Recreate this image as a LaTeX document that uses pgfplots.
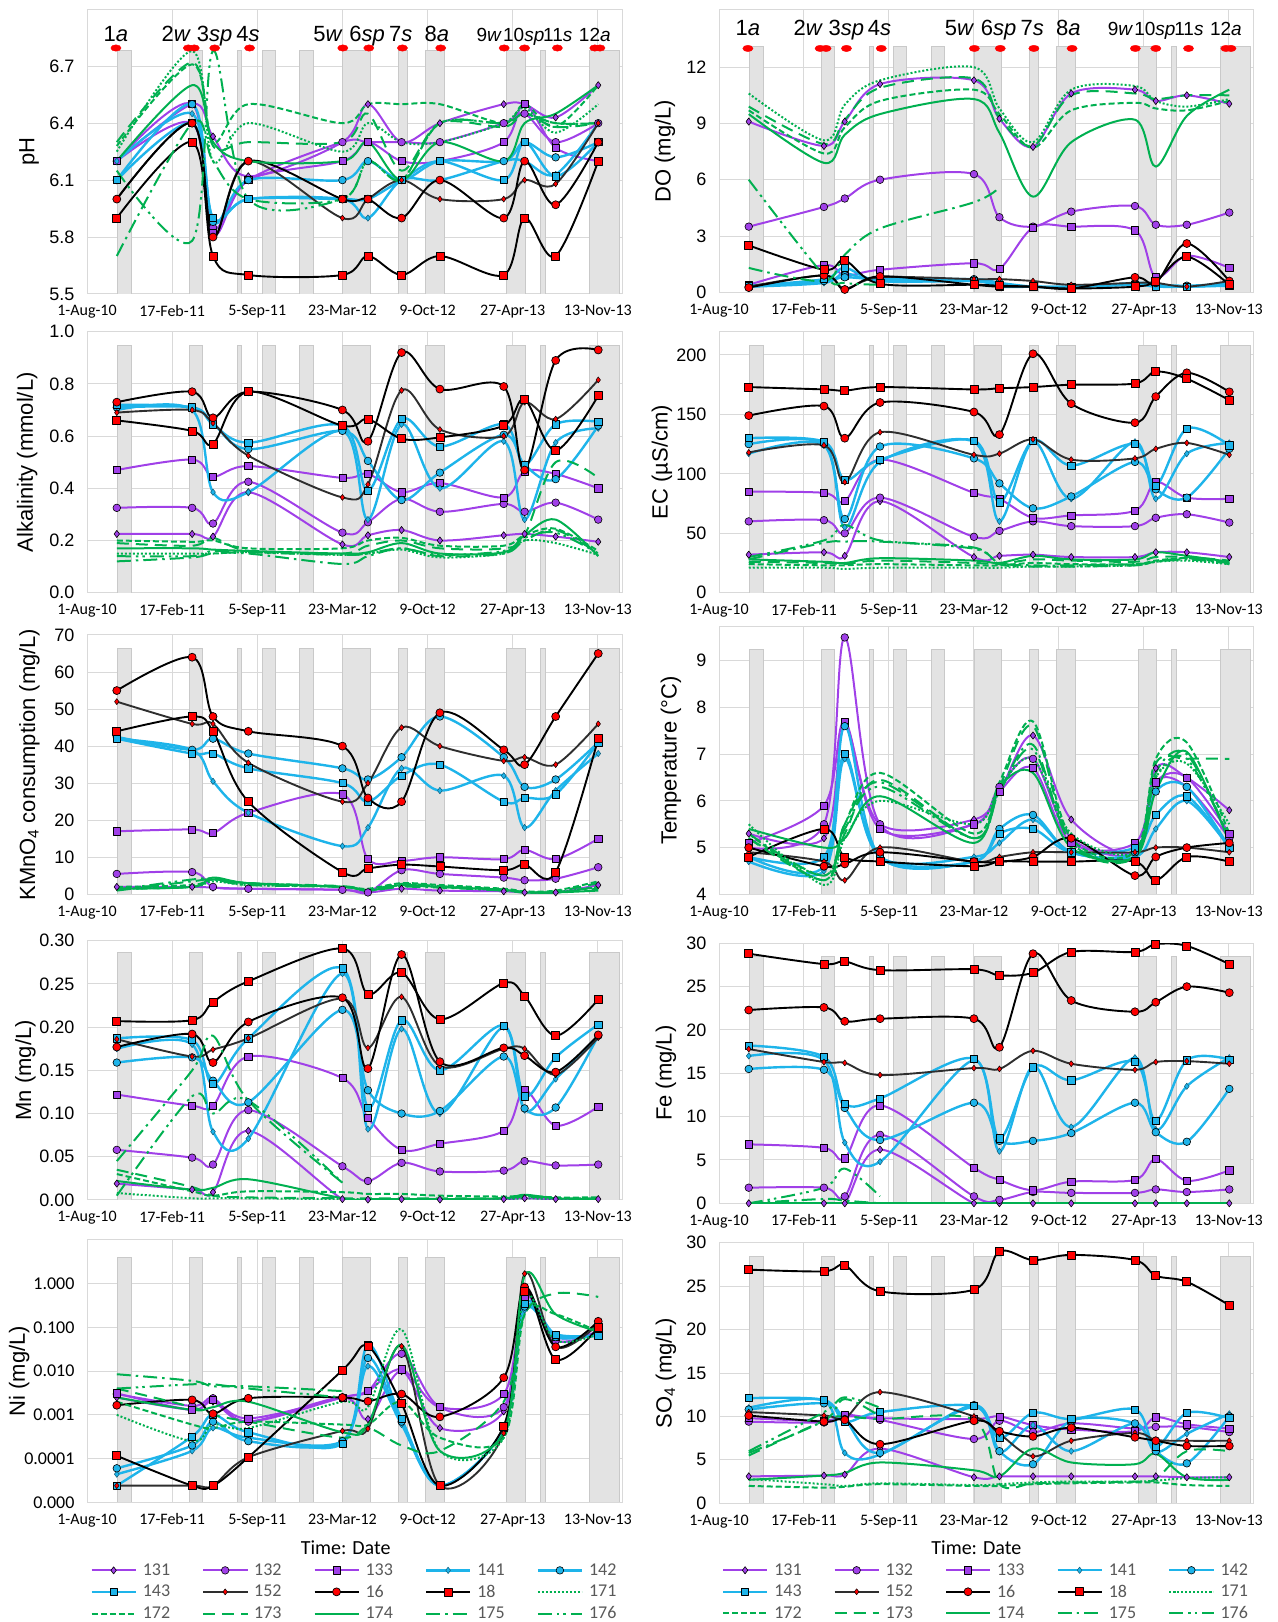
\documentclass[border=0pt]{standalone}
\usepackage{pgfplots}
\pgfplotsset{compat=1.18}
\usepackage{pgfplotstable}
\usepackage{fontspec}
\setmainfont{Liberation Sans}
\newfontfamily\calibri{Carlito}

\definecolor{purp}{HTML}{A040E8}
\definecolor{skyb}{HTML}{1EB4EA}
\definecolor{grn}{HTML}{00B050}
\definecolor{dk}{HTML}{2E2E2E}
\definecolor{barfill}{HTML}{E3E3E3}
\definecolor{bardraw}{HTML}{C9C9C9}
\definecolor{gridc}{HTML}{D9D9D9}
\definecolor{legtext}{HTML}{595959}

\newcommand{\fs}[1]{\fontsize{#1}{#1}\selectfont}

\pgfplotsset{
  panel/.style={
    scale only axis, anchor=south west,
    xmin=0, xmax=1258,
    xtick={0,200,400,600,800,1000,1200},
    xticklabels={1-Aug-10,17-Feb-11,5-Sep-11,23-Mar-12,9-Oct-12,27-Apr-13,13-Nov-13},
    x tick label style={font=\calibri\fs{16}, yshift=-8pt},
    y tick label style={font=\fs{18}, xshift=-9pt},
    ylabel style={font=\fs{22}, anchor=center},
    scaled y ticks=false,
    major tick length=0pt, minor tick length=0pt,
    axis line style={draw=gridc, line width=1pt},
    grid=major, major grid style={draw=gridc, line width=1pt},
    /pgf/number format/assume math mode=true,
    unbounded coords=jump,
    legend image code/.code={\draw[mark repeat=2,mark phase=2,##1] plot coordinates {(0pt,0pt) (22pt,0pt) (44pt,0pt)};},
  },
  leg/.style={legend columns=5, legend cell align=left,
    legend style={at={(axis description cs:#1)}, anchor=north west, draw=none, fill=none, inner sep=0pt,
      font=\calibri\fs{18}, text=legtext, row sep=4pt,
      /tikz/every odd column/.append style={column sep=4pt},
      /tikz/every even column/.append style={column sep=30pt}}},
  barsty/.style={fill=barfill, draw=bardraw, line width=0.8pt, forget plot},
  ln/.style={smooth, tension=0.55, line join=round},
  s131/.style={ln, color=purp, line width=2pt, mark=diamond*, mark size=3.6pt, mark options={solid, fill=purp, draw=black, line width=0.6pt}},
  s132/.style={ln, color=purp, line width=2pt, mark=*, mark size=3.8pt, mark options={solid, fill=purp, draw=black, line width=0.6pt}},
  s133/.style={ln, color=purp, line width=2pt, mark=square*, mark size=3.6pt, mark options={solid, fill=purp, draw=black, line width=0.6pt}},
  s141/.style={ln, color=skyb, line width=2.4pt, mark=diamond*, mark size=3.2pt, mark options={solid, fill=skyb, draw=skyb!50!black, line width=0.5pt}},
  s142/.style={ln, color=skyb, line width=2.4pt, mark=*, mark size=3.8pt, mark options={solid, fill=skyb, draw=black, line width=0.6pt}},
  s143/.style={ln, color=skyb, line width=2.4pt, mark=square*, mark size=3.6pt, mark options={solid, fill=skyb, draw=black, line width=0.6pt}},
  s152/.style={ln, color=dk, line width=1.9pt, mark=diamond*, mark size=3pt, mark options={solid, fill=red, draw=black, line width=0.5pt}},
  s16/.style={ln, color=black, line width=1.9pt, mark=*, mark size=4pt, mark options={solid, fill=red, draw=black, line width=0.7pt}},
  s18/.style={ln, color=black, line width=1.9pt, mark=square*, mark size=4pt, mark options={solid, fill=red, draw=black, line width=0.7pt}},
  s171/.style={ln, color=grn, line width=2pt, dash pattern=on 2pt off 2pt},
  s172/.style={ln, color=grn, line width=2pt, dash pattern=on 6pt off 3pt},
  s173/.style={ln, color=grn, line width=2pt, dash pattern=on 12pt off 7pt},
  s174/.style={ln, color=grn, line width=2pt},
  s175/.style={ln, color=grn, line width=2pt, dash pattern=on 14pt off 5pt on 2.5pt off 5pt},
  s176/.style={ln, color=grn, line width=2pt, dash pattern=on 14pt off 5pt on 2.5pt off 4pt on 2.5pt off 5pt},
}

\newcommand{\bars}[2]{%
 \addplot[barsty] coordinates {(72,#1)(72,#2)(104,#2)(104,#1)};
 \addplot[barsty] coordinates {(240,#1)(240,#2)(272,#2)(272,#1)};
 \addplot[barsty] coordinates {(354,#1)(354,#2)(363,#2)(363,#1)};
 \addplot[barsty] coordinates {(411,#1)(411,#2)(442,#2)(442,#1)};
 \addplot[barsty] coordinates {(499,#1)(499,#2)(531,#2)(531,#1)};
 \addplot[barsty] coordinates {(601,#1)(601,#2)(665,#2)(665,#1)};
 \addplot[barsty] coordinates {(731,#1)(731,#2)(752,#2)(752,#1)};
 \addplot[barsty] coordinates {(795,#1)(795,#2)(839,#2)(839,#1)};
 \addplot[barsty] coordinates {(986,#1)(986,#2)(1029,#2)(1029,#1)};
 \addplot[barsty] coordinates {(1065,#1)(1065,#2)(1077,#2)(1077,#1)};
 \addplot[barsty] coordinates {(1180,#1)(1180,#2)(1250,#2)(1250,#1)};
}

\newcommand{\allseries}[1]{%
 \addplot[s131] table[x=d,y=a1]{#1};
 \addplot[s132] table[x=d,y=a2]{#1};
 \addplot[s133] table[x=d,y=a3]{#1};
 \addplot[s141] table[x=d,y=b1]{#1};
 \addplot[s142] table[x=d,y=b2]{#1};
 \addplot[s143] table[x=d,y=b3]{#1};
 \addplot[s152] table[x=d,y=k2]{#1};
 \addplot[s16] table[x=d,y=k6]{#1};
 \addplot[s18] table[x=d,y=k8]{#1};
 \addplot[s171] table[x=d,y=g1]{#1};
 \addplot[s172] table[x=d,y=g2]{#1};
 \addplot[s173] table[x=d,y=g3]{#1};
 \addplot[s174] table[x=d,y=g4]{#1};
 \addplot[s175] table[x=d,y=g5]{#1};
 \addplot[s176] table[x=d,y=g6]{#1};
}

\newcommand{\camp}[2]{%
 \addplot[only marks, mark=*, mark size=3.2pt, color=red, mark options={xscale=1.6}, forget plot] coordinates {(68,#2)(238,#2)(252,#2)(300,#2)(382,#2)(601,#2)(662,#2)(741,#2)(831,#2)(980,#2)(1028,#2)(1105,#2)(1193,#2)(1205,#2)};
 \node[font=\fs{22}, anchor=base] at (axis cs:68,#1) {1\textit{a}};
 \node[font=\fs{22}, anchor=base] at (axis cs:210,#1) {2\textit{w}};
 \node[font=\fs{22}, anchor=base] at (axis cs:300,#1) {3\textit{sp}};
 \node[font=\fs{22}, anchor=base] at (axis cs:378,#1) {4\textit{s}};
 \node[font=\fs{22}, anchor=base] at (axis cs:566,#1) {5\textit{w}};
 \node[font=\fs{22}, anchor=base] at (axis cs:658,#1) {6\textit{sp}};
 \node[font=\fs{22}, anchor=base] at (axis cs:737,#1) {7\textit{s}};
 \node[font=\fs{22}, anchor=base] at (axis cs:822,#1) {8\textit{a}};
 \node[font=\fs{19}, anchor=base] at (axis cs:945,#1) {9\textit{w}};
 \node[font=\fs{19}, anchor=base] at (axis cs:1026,#1) {10\textit{sp}};
 \node[font=\fs{19}, anchor=base] at (axis cs:1106,#1) {11\textit{s}};
 \node[font=\fs{19}, anchor=base] at (axis cs:1193,#1) {12\textit{a}};
}

% columns: d, 131 132 133, 141 142 143, 152 16 18, 171 172 173 174 175 176
\pgfplotstableread{
d a1 a2 a3 b1 b2 b3 k2 k6 k8 g1 g2 g3 g4 g5 g6
70 6.2 6.2 6.2 6.2 6.1 6.1 6.0 6.0 5.9 6.25 6.28 6.3 6.2 5.7 6.15
247 6.5 6.4 6.5 6.45 6.5 6.4 6.4 6.4 6.3 6.78 6.71 6.72 6.6 6.4 5.78
296 6.33 5.85 5.82 5.9 5.88 5.9 5.8 5.8 5.7 6.2 6.3 6.28 6.3 6.2 6.78
379 6.12 6.1 6.1 6.0 6.1 6.0 6.2 6.2 5.6 6.4 6.5 6.3 6.2 6.0 6.0
600 6.3 6.3 6.2 6.0 6.1 6.0 5.9 6.0 5.6 6.25 6.4 6.3 6.2 6.0 6.0
660 6.5 6.3 6.3 5.9 6.2 6.0 6.0 6.0 5.7 6.4 6.5 6.45 6.3 6.2 6.2
739 6.3 6.3 6.2 6.1 6.1 6.1 6.1 5.9 5.6 6.3 6.5 6.15 6.1 6.1 6.1
829 6.4 6.3 6.2 6.1 6.2 6.2 6.0 6.1 5.7 6.3 6.5 6.4 6.3 6.4 6.4
979 6.5 6.4 6.3 6.2 6.2 6.1 6.0 5.9 5.6 6.4 6.4 6.38 6.2 6.4 6.4
1028 6.5 6.45 6.5 6.2 6.3 6.3 6.1 6.2 5.9 6.48 6.5 6.45 6.4 6.45 6.45
1101 6.43 6.3 6.27 6.13 6.22 6.12 6.08 5.97 5.7 6.35 6.38 6.38 6.45 6.4 6.4
1201 6.6 6.4 6.2 6.4 6.3 6.3 6.4 6.3 6.2 6.5 6.6 6.4 6.6 6.4 6.4
}\tpH

\pgfplotstableread{
d a1 a2 a3 b1 b2 b3 k2 k6 k8 g1 g2 g3 g4 g5 g6
70 9.1 3.5 0.4 0.3 0.3 0.35 0.3 0.25 2.5 10.6 9.7 9.9 9.5 1.3 6.0
247 7.8 4.55 1.45 0.5 0.6 0.7 0.9 0.9 1.2 8.1 7.4 7.9 6.9 0.6 0.9
296 9.1 5.0 0.9 1.0 0.8 1.3 0.2 0.15 1.7 10.0 8.8 9.2 8.4 2.0 0.5
379 11.1 6.0 1.2 0.6 0.7 0.6 0.8 0.85 0.45 11.3 10.2 10.9 9.5 3.4 0.4
600 11.3 6.3 1.55 0.6 0.7 0.6 0.7 0.4 0.4 12.0 10.8 11.4 10.3 4.8 nan
660 9.25 4.0 1.25 0.4 0.5 0.3 0.7 0.3 0.35 9.8 9.5 9.3 8.5 5.6 nan
739 7.75 3.5 3.45 0.3 0.3 0.3 0.6 0.3 0.3 8.0 7.7 7.8 5.1 nan nan
829 10.6 4.3 3.5 0.3 0.25 0.3 0.4 0.2 0.2 10.8 9.7 10.5 8.0 nan nan
979 10.8 4.6 3.3 0.4 0.5 0.4 0.5 0.8 0.3 11.0 10.1 10.6 9.2 nan nan
1028 10.2 3.6 0.8 0.4 0.4 0.3 0.5 0.5 0.6 10.2 9.8 10.3 6.7 nan nan
1101 10.5 3.6 1.95 0.3 0.35 0.3 0.3 2.6 1.9 9.9 9.7 10.5 9.4 nan nan
1201 10.05 4.25 1.3 0.4 0.45 0.35 0.6 0.6 0.4 10.3 10.2 10.5 10.8 nan nan
}\tDO

\pgfplotstableread{
d a1 a2 a3 b1 b2 b3 k2 k6 k8 g1 g2 g3 g4 g5 g6
70 .225 .325 .47 .70 .71 .72 .69 .73 .66 .15 .2 .19 .17 .12 .14
247 .225 .325 .51 .70 .71 .71 .70 .77 .62 .15 .195 .18 .17 .135 .14
296 .215 .265 .445 .385 .65 .645 .65 .67 .57 .15 .2 .21 .165 .15 .16
379 .385 .425 .485 .385 .55 .575 .525 .77 .77 .155 .17 .16 .16 .15 .155
600 .185 .23 .44 .62 .62 .64 .365 .70 .64 .145 .17 .15 .15 .11 .145
660 .22 .27 .455 .28 .505 .39 .415 .58 .665 .15 .2 .18 .155 .14 .15
739 .24 .36 .385 .645 .355 .665 .775 .92 .59 .165 .21 .2 .19 .17 .17
829 .2 .31 .42 .40 .46 .56 .625 .78 .595 .135 .18 .17 .15 .14 .145
979 .22 .34 .365 .58 .605 .645 .60 .79 .64 .15 .18 .17 .155 .15 .16
1028 .225 .31 .465 .28 .49 .49 .73 .47 .74 .2 .22 .22 .22 .2 .21
1101 .215 .345 .455 .575 .435 .645 .665 .89 .545 .19 .245 .5 .28 .24 .23
1201 .195 .28 .40 .63 .64 .655 .815 .93 .755 .145 .16 .44 .14 .15 .15
}\tAlk

\pgfplotstableread{
d a1 a2 a3 b1 b2 b3 k2 k6 k8 g1 g2 g3 g4 g5 g6
70 32 60 85 117 125 130 118 149 173 21 24 26 28 28 30
247 34 61 84 124 125 127 124 157 171 21 23 25 26 42 44
296 31 50 77 55 62 95 93 130 170 20 23 24 25 43 57
379 77 80 112 110 123 112 135 160 173 21 24 27 29 43 44
600 30 47 84 127 113 128 116 152 171 21 23 25 27 37 38
660 31 52 79 60 92 76 117 133 172 21 23 24 25 25 24
739 32 60 63 127 71 128 129 201 173 22 25 28 31 23 22
829 30 56 65 79 81 107 112 159 175 22 24 27 28 23 22
979 30 56 69 127 110 125 113 143 176 23 24 26 28 24 23
1028 34 63 93 79 87 90 121 165 186 26 27 30 34 26 26
1101 34 66 80 117 80 138 126 185 180 27 29 30 31 28 29
1201 30 59 79 126 121 124 116 169 162 24 25 27 26 25 24
}\tEC

\pgfplotstableread{
d a1 a2 a3 b1 b2 b3 k2 k6 k8 g1 g2 g3 g4 g5 g6
70 2 5.5 17 42 42.5 42 52 55 44 1.5 2 1.5 1.5 1 1.2
247 2 6 17.5 39 39 38 46 64 48 2 2.5 2 2 3.5 4
296 1.8 2 16.5 30.5 42 38 46 48 44 3.5 4 4 4.5 4 4.2
379 1.5 1.5 22 22 38 34 35.5 44 25 2.5 3 3 3 2.5 3
600 1.2 1.2 27 13 34 30 25 40 6 2 2 2.2 2 2 2
660 0.5 0.5 9.5 18 31 25 30 26 7 1 1.5 1.2 1 1 1.2
739 1.5 6.5 9 34 37 32 45 25 8 2.5 3 2.8 2.5 2 2.2
829 1.0 5.5 10 28 48 35 40 49 7.5 2 2.5 2.2 2 1.8 2
979 0.8 4.5 9.5 32 37 25 36 39 6.5 1 1.5 1.3 1.2 1 1.2
1028 0.5 3.8 12 18 29 26 37 35 8 0.5 0.8 0.6 0.5 0.5 0.6
1101 0.5 4.2 9.5 28 31 27 35 48 6 0.5 1 0.8 0.5 0.5 0.6
1201 2.5 7.3 15 38 41 41 46 65 42 2 3.5 3 1 1.5 2
}\tKM

\pgfplotstableread{
d a1 a2 a3 b1 b2 b3 k2 k6 k8 g1 g2 g3 g4 g5 g6
70 5.3 5.0 5.1 4.7 4.8 4.8 4.9 5.0 4.8 5.5 5.3 5.2 5.4 5.3 5.2
247 5.2 5.5 5.9 4.5 4.6 4.8 4.7 4.6 5.4 4.2 4.3 4.3 5.0 4.4 4.4
296 7.6 9.5 7.7 6.9 7.6 7.0 4.3 4.65 4.8 5.2 5.5 5.3 5.2 5.5 5.4
379 5.5 5.5 5.4 4.8 4.8 4.8 5.0 4.9 4.7 6.0 6.6 6.45 6.1 6.4 6.3
600 5.6 5.5 5.5 4.8 4.7 4.7 4.7 4.7 4.6 5.5 5.3 5.2 5.1 5.2 5.2
660 6.2 6.3 6.2 5.1 5.4 5.3 4.8 4.7 4.7 6.3 6.4 6.3 6.3 6.2 6.2
739 7.4 6.9 6.7 5.6 5.7 5.4 4.9 4.8 4.7 6.9 7.7 7.6 6.6 7.2 7.1
829 5.6 5.2 5.1 4.9 4.9 4.9 4.9 5.2 4.7 5.3 5.2 5.1 5.0 5.1 5.1
979 4.9 4.9 5.1 4.8 4.9 5.0 4.9 4.4 4.7 4.9 4.9 4.8 4.8 4.8 4.8
1028 6.7 6.4 6.4 5.4 6.2 5.7 5.0 4.8 4.3 6.5 6.9 6.8 6.2 6.6 6.5
1101 6.5 6.3 6.5 6.0 6.3 6.1 5.0 5.0 4.8 6.8 7.25 6.9 7.05 7.0 6.9
1201 5.8 5.2 5.3 5.0 5.0 5.0 4.9 5.1 4.7 5.5 5.3 6.9 5.1 5.2 5.2
}\tT

\pgfplotstableread{
d a1 a2 a3 b1 b2 b3 k2 k6 k8 g1 g2 g3 g4 g5 g6
70 .019 .058 .122 .175 .159 .187 .186 .177 .207 .008 .03 .035 .022 .045 .005
247 .012 .049 .109 .18 .165 .185 .166 .192 .208 .002 .01 .015 .012 .15 .12
296 .009 .041 .109 .079 .138 .134 .174 .159 .229 .002 .005 .005 .014 .19 .1
379 .08 .104 .166 .071 .113 .187 .187 .206 .253 .002 .01 .003 .024 .115 .115
600 .001 .039 .141 .262 .22 .268 .233 .234 .291 .001 .009 .002 .002 .02 .02
660 .0005 .022 .095 .082 .127 .107 .176 .152 .238 .001 .007 .002 .001 nan nan
739 .001 .043 .058 .198 .1 .208 .235 .284 .263 .001 .007 .002 .001 nan nan
829 .0005 .033 .065 .1 .103 .15 .155 .16 .209 .001 .005 .002 .001 nan nan
979 .001 .034 .08 .2 .166 .202 .175 .176 .251 .001 .004 .002 .002 nan nan
1028 .002 .045 .127 .104 .106 .12 .175 .167 .236 .002 .005 .004 .006 nan nan
1101 .001 .04 .086 .14 .107 .165 .145 .148 .19 .001 .003 .002 .002 nan nan
1201 .001 .041 .108 .188 .19 .203 .188 .191 .232 .001 .003 .002 .001 nan nan
}\tMn

\pgfplotstableread{
d a1 a2 a3 b1 b2 b3 k2 k6 k8 g1 g2 g3 g4 g5 g6
70 0 1.8 6.8 17.0 15.5 18.2 17.8 22.3 28.8 0 0 0 0 0 0
247 0 1.8 6.4 16.5 15.4 16.9 16.3 22.6 27.6 0 0 0 0 0.5 1.8
296 0 0.8 5.2 7.0 11.0 11.5 16.2 21.0 27.9 0 0 0 0 0.3 4.0
379 6.2 7.9 11.3 4.8 7.3 12.1 14.8 21.3 26.9 0 0 0 0 0 0.8
600 0 0.8 4.1 16.5 11.6 16.7 15.6 21.3 27.0 0 0 0 0 nan nan
660 0 0.4 2.7 6.0 7.2 7.5 15.5 18.0 26.3 0 0 0 0 nan nan
739 0 1.3 1.5 15.8 7.2 15.7 17.6 28.8 26.6 0 0 0 0 nan nan
829 0 1.2 2.5 8.8 8.1 14.2 16.1 23.4 29.0 0 0 0 0 nan nan
979 0 1.2 2.7 16.8 11.6 16.3 15.4 22.1 29.0 0 0 0 0 nan nan
1028 0 1.6 5.1 8.5 8.2 9.5 16.3 23.2 29.9 0 0 0 0 nan nan
1101 0 1.3 2.6 13.5 7.1 16.5 16.4 25.0 29.7 0 0 0 0 nan nan
1201 0 1.6 3.8 16.8 13.2 16.6 16.1 24.3 27.6 0 0 0 0 nan nan
}\tFe

\pgfplotstableread{
d a1 a2 a3 b1 b2 b3 k2 k6 k8 g1 g2 g3 g4 g5 g6
70 0.0025 0.003 0.0031 4.4e-5 6e-5 2.4e-5 2.4e-5 0.00166 0.000116 0.001 0.002 0.004 0.0025 0.0085 0.004
247 0.0013 0.0016 0.0013 0.00015 0.0002 0.00032 2.4e-5 0.0022 2.4e-5 0.00025 0.0006 0.0015 0.0013 0.006 0.005
296 0.002 0.0024 0.0022 0.0005 0.0007 0.001 2.4e-5 0.00106 2.4e-5 0.0006 0.0005 0.001 0.0015 0.0045 0.005
379 0.0007 0.0007 0.00083 0.0003 0.00025 0.0004 0.000107 0.0024 0.000107 0.0005 0.0007 0.0007 0.002 0.0045 0.004
600 0.0025 0.0025 0.0025 0.00025 0.00025 0.00022 0.00043 0.0025 0.0105 0.002 0.0006 0.0003 0.0004 0.0035 0.0025
660 0.0008 0.0035 0.0035 0.013 0.02 0.04 0.00048 0.00205 0.037 0.0015 0.0006 0.0005 0.0006 nan nan
739 0.01 0.025 0.011 0.0006 0.0007 0.0008 0.037 0.003 0.0018 0.09 0.002 0.0002 0.04 nan nan
829 0.0005 0.0015 0.0015 2.4e-5 2.4e-5 2.4e-5 2.4e-5 0.0009 2.4e-5 0.00015 0.0003 0.00015 0.00015 nan nan
979 0.0012 0.0015 0.003 0.0005 0.0005 0.0005 0.00038 0.0071 0.00056 0.0003 0.0003 0.002 0.0004 nan nan
1028 0.5 0.6 0.5 0.25 0.3 0.35 1.7 0.84 0.67 0.5 0.2 0.2 1.5 nan nan
1101 0.05 0.05 0.06 0.07 0.06 0.068 0.036 0.036 0.0184 0.05 0.2 0.6 0.2 nan nan
1201 0.08 0.08 0.08 0.065 0.07 0.065 0.12 0.138 0.1 0.07 0.08 0.5 0.08 nan nan
}\tNi

\pgfplotstableread{
d a1 a2 a3 b1 b2 b3 k2 k6 k8 g1 g2 g3 g4 g5 g6
70 3.1 9.4 9.8 11.0 10.8 12.1 10.5 10.1 26.9 2.8 2.0 5.5 2.7 5.8 6.0
247 3.2 9.3 9.5 11.8 11.5 11.9 10.1 9.4 26.7 2.2 1.8 9.5 3.2 9.5 10.5
296 3.3 10.0 10.2 5.8 9.7 9.4 9.8 9.6 27.4 2.0 1.9 10.0 3.5 12.0 12.2
379 6.3 9.6 9.8 5.6 5.8 10.5 12.8 6.8 24.4 2.3 2.2 9.7 4.7 10.0 11.0
600 3.0 7.4 9.7 11.1 11.3 11.2 10.0 9.5 24.6 2.1 2.0 9.6 3.8 nan nan
660 3.1 9.5 10.0 5.9 6.0 7.5 8.0 8.3 29.0 2.2 2.0 2.2 3.1 nan nan
739 3.1 8.2 9.0 9.0 4.5 10.4 5.4 7.7 28.0 2.4 2.2 2.3 6.3 nan nan
829 3.1 9.2 8.5 6.0 9.5 9.7 7.2 8.7 28.6 2.5 2.3 2.4 4.7 nan nan
979 3.1 8.6 8.3 9.2 9.2 10.8 8.1 7.6 28.0 2.5 2.4 2.5 4.5 nan nan
1028 3.1 8.8 9.9 5.9 6.0 6.5 7.3 7.2 26.2 2.6 2.4 2.8 5.7 nan nan
1101 3.0 8.8 9.1 8.0 4.6 10.4 7.2 6.6 25.5 2.9 2.1 6.0 3.0 nan nan
1201 3.0 8.2 8.6 10.3 10.0 9.8 7.2 6.6 22.8 3.0 2.0 6.0 2.7 nan nan
}\tSO

\begin{document}
\begin{tikzpicture}
\useasboundingbox (0pt,0pt) rectangle (1277pt,1622pt);

% ---------- pH
\begin{axis}[panel, at={(87pt,1328pt)}, width=535.5pt, height=284.7pt,
  ymin=5.5, ymax=7.0, ytick={5.5,5.8,6.1,6.4,6.7},
  y tick label style={/pgf/number format/fixed, /pgf/number format/fixed zerofill, /pgf/number format/precision=1},
  ylabel={pH}, ylabel style={at={(axis description cs:-0.108,0.5)}}]
\bars{5.5}{6.782}
\allseries{\tpH}
\camp{6.83}{6.796}
\end{axis}

% ---------- DO
\begin{axis}[panel, at={(719pt,1329.7pt)}, width=534.5pt, height=282.3pt,
  ymin=0, ymax=15.05, ytick={0,3,6,9,12},
  ylabel={DO (mg/L)}, ylabel style={at={(axis description cs:-0.101,0.5)}}]
\bars{0}{13.12}
\allseries{\tDO}
\camp{13.69}{13.0}
\end{axis}

% ---------- Alkalinity
\begin{axis}[panel, at={(87pt,1029.3pt)}, width=535.5pt, height=261pt,
  ymin=0, ymax=1.0, ytick={0,0.2,0.4,0.6,0.8,1.0},
  y tick label style={/pgf/number format/fixed, /pgf/number format/fixed zerofill, /pgf/number format/precision=1},
  ylabel={Alkalinity (mmol/L)}, ylabel style={at={(axis description cs:-0.1115,0.5)}}]
\bars{0}{0.949}
\allseries{\tAlk}
\end{axis}

% ---------- EC
\begin{axis}[panel, at={(719pt,1029.3pt)}, width=534.5pt, height=261pt,
  ymin=0, ymax=219.6, ytick={0,50,100,150,200},
  ylabel={EC (µS/cm)}, ylabel style={at={(axis description cs:-0.1066,0.5)}}]
\bars{0}{208.4}
\allseries{\tEC}
\end{axis}

% ---------- KMnO4
\begin{axis}[panel, at={(87pt,727.7pt)}, width=535.5pt, height=259.3pt,
  ymin=0, ymax=70, ytick={0,10,20,30,40,50,60,70},
  ylabel={KMnO\textsubscript{4} consumption (mg/L)}, ylabel style={at={(axis description cs:-0.1076,0.5)}}]
\bars{0}{66.4}
\allseries{\tKM}
\end{axis}

% ---------- Temperature
\begin{axis}[panel, at={(719pt,727.7pt)}, width=534.5pt, height=267.6pt,
  ymin=4, ymax=9.73, ytick={4,5,6,7,8,9},
  ylabel={Temperature (°C)}, ylabel style={at={(axis description cs:-0.0898,0.5)}}]
\bars{4}{9.24}
\allseries{\tT}
\end{axis}

% ---------- Mn
\begin{axis}[panel, at={(87pt,422pt)}, width=535.5pt, height=259.3pt,
  ymin=0, ymax=0.30, ytick={0,0.05,0.10,0.15,0.20,0.25,0.30},
  y tick label style={/pgf/number format/fixed, /pgf/number format/fixed zerofill, /pgf/number format/precision=2},
  ylabel={Mn (mg/L)}, ylabel style={at={(axis description cs:-0.115,0.5)}}]
\bars{0}{0.286}
\allseries{\tMn}
\end{axis}

% ---------- Fe
\begin{axis}[panel, at={(719pt,418.7pt)}, width=534.5pt, height=260pt,
  ymin=0, ymax=30, ytick={0,5,10,15,20,25,30},
  ylabel={Fe (mg/L)}, ylabel style={at={(axis description cs:-0.0992,0.5)}}]
\bars{0}{28.5}
\allseries{\tFe}
\end{axis}

% ---------- Ni
\begin{axis}[panel, at={(87pt,119.7pt)}, width=535.5pt, height=262.3pt,
  ymode=log, ymin=1e-5, ymax=10,
  ytick={1e-5,1e-4,1e-3,1e-2,1e-1,1},
  yticklabels={0.000,0.0001,0.001,0.010,0.100,1.000},
  y tick label style={font=\calibri\fs{18}},
  ylabel={Ni (mg/L)}, ylabel style={at={(axis description cs:-0.1266,0.5)}},
  xlabel={Time: Date}, xlabel style={font=\calibri\fs{20}, at={(axis description cs:0.483,-0.174)}, anchor=center},
  leg={0.006,-0.226}]
\bars{1e-5}{4.06}
\allseries{\tNi}
\legend{131,132,133,141,142,143,152,16,18,171,172,173,174,175,176}
\end{axis}

% ---------- SO4
\begin{axis}[panel, at={(719pt,118.7pt)}, width=534.5pt, height=260.6pt,
  ymin=0, ymax=30, ytick={0,5,10,15,20,25,30},
  ylabel={SO\textsubscript{4} (mg/L)}, ylabel style={at={(axis description cs:-0.0992,0.5)}},
  xlabel={Time: Date}, xlabel style={font=\calibri\fs{20}, at={(axis description cs:0.4815,-0.1715)}, anchor=center},
  leg={0.005,-0.2233}]
\bars{0}{28.4}
\allseries{\tSO}
\legend{131,132,133,141,142,143,152,16,18,171,172,173,174,175,176}
\end{axis}
\end{tikzpicture}
\end{document}
